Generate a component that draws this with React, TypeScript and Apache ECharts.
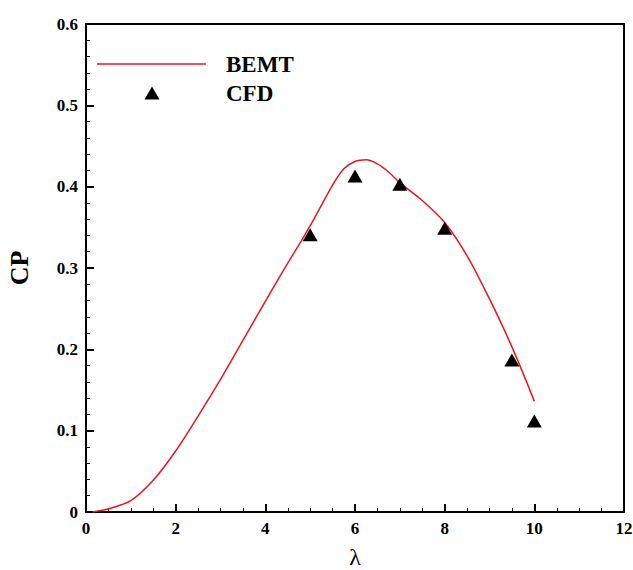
import React, { useEffect, useRef } from "react";
import * as echarts from "echarts";

const bemtLambda = [0.15, 0.5, 1.0, 1.5, 2.0, 2.5, 3.0, 3.5, 4.0, 4.5, 4.8, 5.0, 5.25, 5.5, 5.75, 6.0, 6.25, 6.5, 6.75, 7.0, 7.5, 8.0, 8.5, 9.0, 9.5, 10.0];
const bemtCp = [0.0, 0.004, 0.014, 0.039, 0.075, 0.118, 0.163, 0.211, 0.259, 0.306, 0.333, 0.352, 0.377, 0.402, 0.422, 0.431, 0.433, 0.428, 0.418, 0.405, 0.383, 0.356, 0.315, 0.262, 0.203, 0.136];

const cfdLambda = [5, 6, 7, 8, 9.5, 10];
const cfdCp = [0.341, 0.413, 0.403, 0.349, 0.187, 0.112];

const FONT = '"Liberation Serif", "Times New Roman", serif';

export default function App() {
  const ref = useRef<HTMLDivElement>(null);
  useEffect(() => {
    if (!ref.current) return;
    const chart = echarts.init(ref.current, null, { renderer: "svg" });
    chart.setOption({
      animation: false,
      backgroundColor: "#fff",
      grid: {
        left: 86, top: 24, width: 538, height: 488,
        outerBoundsMode: "none", containLabel: false,
        show: true, borderColor: "#000", borderWidth: 2, backgroundColor: "transparent",
      },
      xAxis: {
        type: "value", min: 0, max: 12, interval: 2,
        name: "λ", nameLocation: "middle", nameGap: 33,
        nameTextStyle: { fontFamily: FONT, fontSize: 24, color: "#000" },
        axisLine: { show: true, lineStyle: { color: "#000", width: 2 } },
        axisTick: { show: true, inside: true, length: 8, lineStyle: { color: "#000", width: 2 } },
        minorTick: { show: true, splitNumber: 4, length: 4, lineStyle: { color: "#000", width: 1 } },
        splitLine: { show: false },
        axisLabel: { fontFamily: FONT, fontWeight: "bold", fontSize: 17, color: "#000", margin: 8 },
      },
      yAxis: {
        type: "value", min: 0, max: 0.6, interval: 0.1,
        name: "CP", nameLocation: "middle", nameGap: 54, nameRotate: 90,
        nameTextStyle: { fontFamily: FONT, fontWeight: "bold", fontSize: 26, color: "#000" },
        axisLine: { show: true, lineStyle: { color: "#000", width: 2 } },
        axisTick: { show: true, inside: true, length: 8, lineStyle: { color: "#000", width: 2 } },
        minorTick: { show: true, splitNumber: 5, length: 4, lineStyle: { color: "#000", width: 1 } },
        splitLine: { show: false },
        axisLabel: {
          fontFamily: FONT, fontWeight: "bold", fontSize: 17, color: "#000", margin: 8,
          formatter: (v: number) => (v === 0 ? "0" : v.toFixed(1)),
        },
      },
      series: [
        {
          name: "BEMT", type: "line", smooth: 0.3, symbol: "none",
          data: bemtLambda.map((x, i) => [x, bemtCp[i]]),
          lineStyle: { color: "#e8171e", width: 1.5 },
          z: 2,
        },
        {
          name: "CFD", type: "scatter", symbol: "triangle", symbolSize: [15, 13],
          data: cfdLambda.map((x, i) => [x, cfdCp[i]]),
          itemStyle: { color: "#000", opacity: 1 },
          z: 3,
        },
      ],
      graphic: [
        { type: "line", shape: { x1: 97, y1: 64, x2: 206, y2: 64 }, style: { stroke: "#e8171e", lineWidth: 1.5 } },
        { type: "text", x: 226, y: 64, style: { text: "BEMT", fontFamily: FONT, fontWeight: "bold", fontSize: 23, fill: "#000", verticalAlign: "middle" } },
        { type: "polygon", shape: { points: [[144.5, 99.5], [159.5, 99.5], [152, 86.5]] }, style: { fill: "#000" } },
        { type: "text", x: 226, y: 93, style: { text: "CFD", fontFamily: FONT, fontWeight: "bold", fontSize: 23, fill: "#000", verticalAlign: "middle" } },
      ],
    });
    return () => chart.dispose();
  }, []);
  return (
    <div
      ref={ref}
      style={{ position: "fixed", left: 0, top: 0, width: 633, height: 570, background: "#fff" }}
    />
  );
}
